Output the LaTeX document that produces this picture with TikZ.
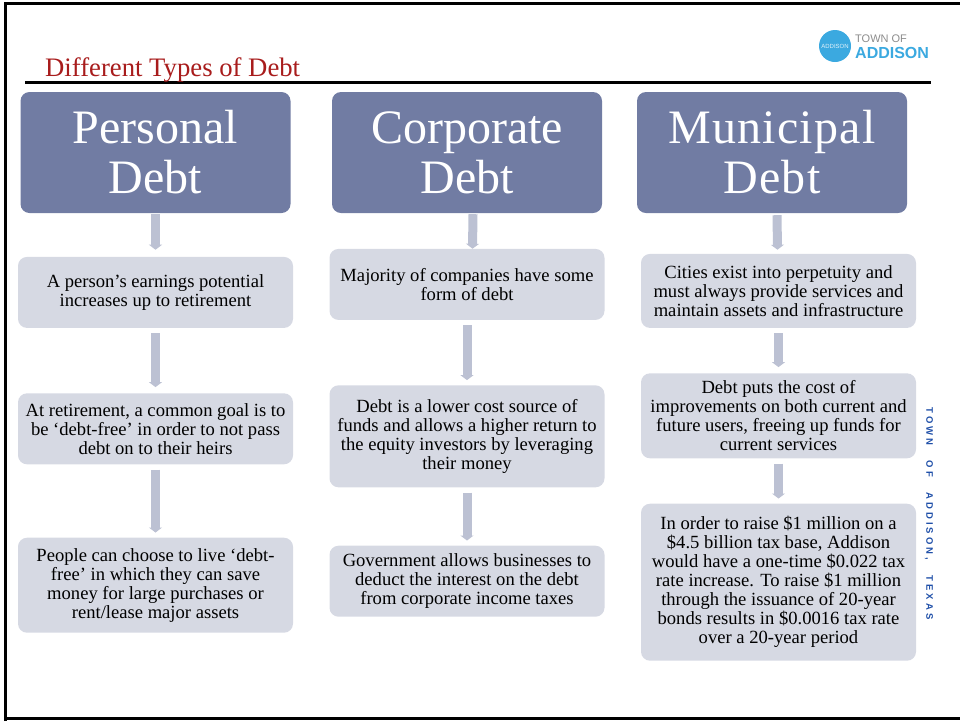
\documentclass[tikz,border=0pt]{standalone}
\usepackage{fontspec}
\setmainfont{Liberation Serif}
\setsansfont{Liberation Sans}
\newfontfamily\sidefont[WordSpace=2.7, LetterSpace=32, BoldFont={Liberation Sans Bold}]{Liberation Sans}
\usetikzlibrary{arrows.meta, positioning}

\definecolor{headblue}{HTML}{717CA3}
\definecolor{boxgray}{HTML}{D6D9E3}
\definecolor{arrowgray}{HTML}{BCC1D3}
\definecolor{titlered}{HTML}{A81C1C}
\definecolor{logoblue}{HTML}{3BA9E0}
\definecolor{sideblue}{HTML}{1F4FA8}

\begin{document}
\begin{tikzpicture}[
    x = 1pt, y = -1pt,
    node distance = 40pt,
    head/.style = {rectangle, rounded corners=9pt, fill=headblue, text=white, minimum width=270pt, minimum height=121pt, inner sep=0pt, align=center, font=\fontsize{48}{50}\selectfont},
    box/.style = {rectangle, rounded corners=9pt, fill=boxgray, text=black, minimum width=275pt, inner sep=0pt, align=center, font=\fontsize{18.6}{19}\selectfont},
    arrow/.style = {-{Triangle[length=5pt, width=13pt]}, line width=9pt, draw=arrowgray}
]
\useasboundingbox (0,0) rectangle (960,721);

% Frame and title rule
\draw[line width=3pt] (5,721) -- (5,3.5) -- (960,3.5);
\draw[line width=3pt] (5,718.5) -- (960,718.5);
\draw[line width=3pt] (25,82.5) -- (931,82.5);

% Title and logo
\node[anchor=base west, inner sep=0pt, text=titlered, font=\fontsize{26.7}{28}\selectfont] (title) at (45,76) {Different Types of Debt};
\node[circle, fill=logoblue, minimum size=32pt, inner sep=0pt, text=white!85!logoblue, font=\sffamily\fontsize{6}{6}\selectfont] (logo) at (835,46) {ADDISON};
\node[anchor=base west, inner sep=0pt, text=black!45, font=\sffamily\fontsize{11}{11}\selectfont] (town) at (855,42) {TOWN OF};
\node[anchor=base west, inner sep=0pt, text=logoblue, font=\sffamily\bfseries\fontsize{16}{16}\selectfont] (addison) at (855,58) {ADDISON};
\node[rotate=-90, inner sep=0pt, text=sideblue, font=\sidefont\bfseries\fontsize{9.5}{10}\selectfont] (side) at (929,513.5) {TOWN OF ADDISON, TEXAS};

% Personal column
\node[head] (personal) at (155.5,152.5) {Personal\\Debt};
\node[box, minimum height=71pt, below=43.5pt of personal] (earnings) {A person’s earnings potential\\increases up to retirement};
\node[box, minimum height=71pt, below=65pt of earnings] (retirement) {At retirement, a common goal is to\\be ‘debt-free’ in order to not pass\\debt on to their heirs};
\node[box, minimum height=95pt, below=73pt of retirement] (debtfree) {People can choose to live ‘debt-\\free’ in which they can save\\money for large purchases or\\rent/lease major assets};

% Corporate column
\node[head] (corporate) at (467,152.5) {Corporate\\Debt};
\node[box, minimum height=71pt, below=35.5pt of corporate] (companies) {Majority of companies have some\\form of debt};
\node[box, minimum height=102pt, below=65pt of companies] (lowercost) {Debt is a lower cost source of\\funds and allows a higher return to\\the equity investors by leveraging\\their money};
\node[box, minimum height=71pt, below=58pt of lowercost] (government) {Government allows businesses to\\deduct the interest on the debt\\from corporate income taxes};

% Municipal column
\node[head, font=\fontsize{48}{50}\selectfont\addfontfeature{LetterSpace=2.5}] (municipal) at (772,152.5) {Municipal\\Debt};
\node[box, minimum height=74pt, below=40.5pt of municipal, xshift=6.5pt] (cities) {Cities exist into perpetuity and\\must always provide services and\\maintain assets and infrastructure};
\node[box, minimum height=85pt, below=45pt of cities] (users) {Debt puts the cost of\\improvements on both current and\\future users, freeing up funds for\\current services};
\node[box, minimum height=157pt, below=45pt of users] (raise) {In order to raise \$1 million on a\\\$4.5 billion tax base, Addison\\would have a one-time \$0.022 tax\\rate increase.  To raise \$1 million\\through the issuance of 20-year\\bonds results in \$0.0016 tax rate\\over a 20-year period};

% Draw arrows
\draw[arrow] ([yshift=-1pt]personal.south) -- ([yshift=7pt]earnings.north);
\draw[arrow] ([yshift=-5pt]earnings.south) -- ([yshift=6pt]retirement.north);
\draw[arrow] ([yshift=-5pt]retirement.south) -- ([yshift=5pt]debtfree.north);
\draw[arrow] ([xshift=6pt,yshift=-1pt]corporate.south) -- ([xshift=5.5pt]companies.north);
\draw[arrow] ([yshift=-5pt]companies.south) -- ([yshift=5pt]lowercost.north);
\draw[arrow] ([yshift=-5pt]lowercost.south) -- ([yshift=5pt]government.north);
\draw[arrow] ([xshift=5pt,yshift=-2pt]municipal.south) -- ([xshift=-1pt,yshift=4pt]cities.north);
\draw[arrow] ([yshift=-5pt]cities.south) -- ([yshift=6pt]users.north);
\draw[arrow] ([yshift=-5pt]users.south) -- ([yshift=5pt]raise.north);

\end{tikzpicture}
\end{document}
